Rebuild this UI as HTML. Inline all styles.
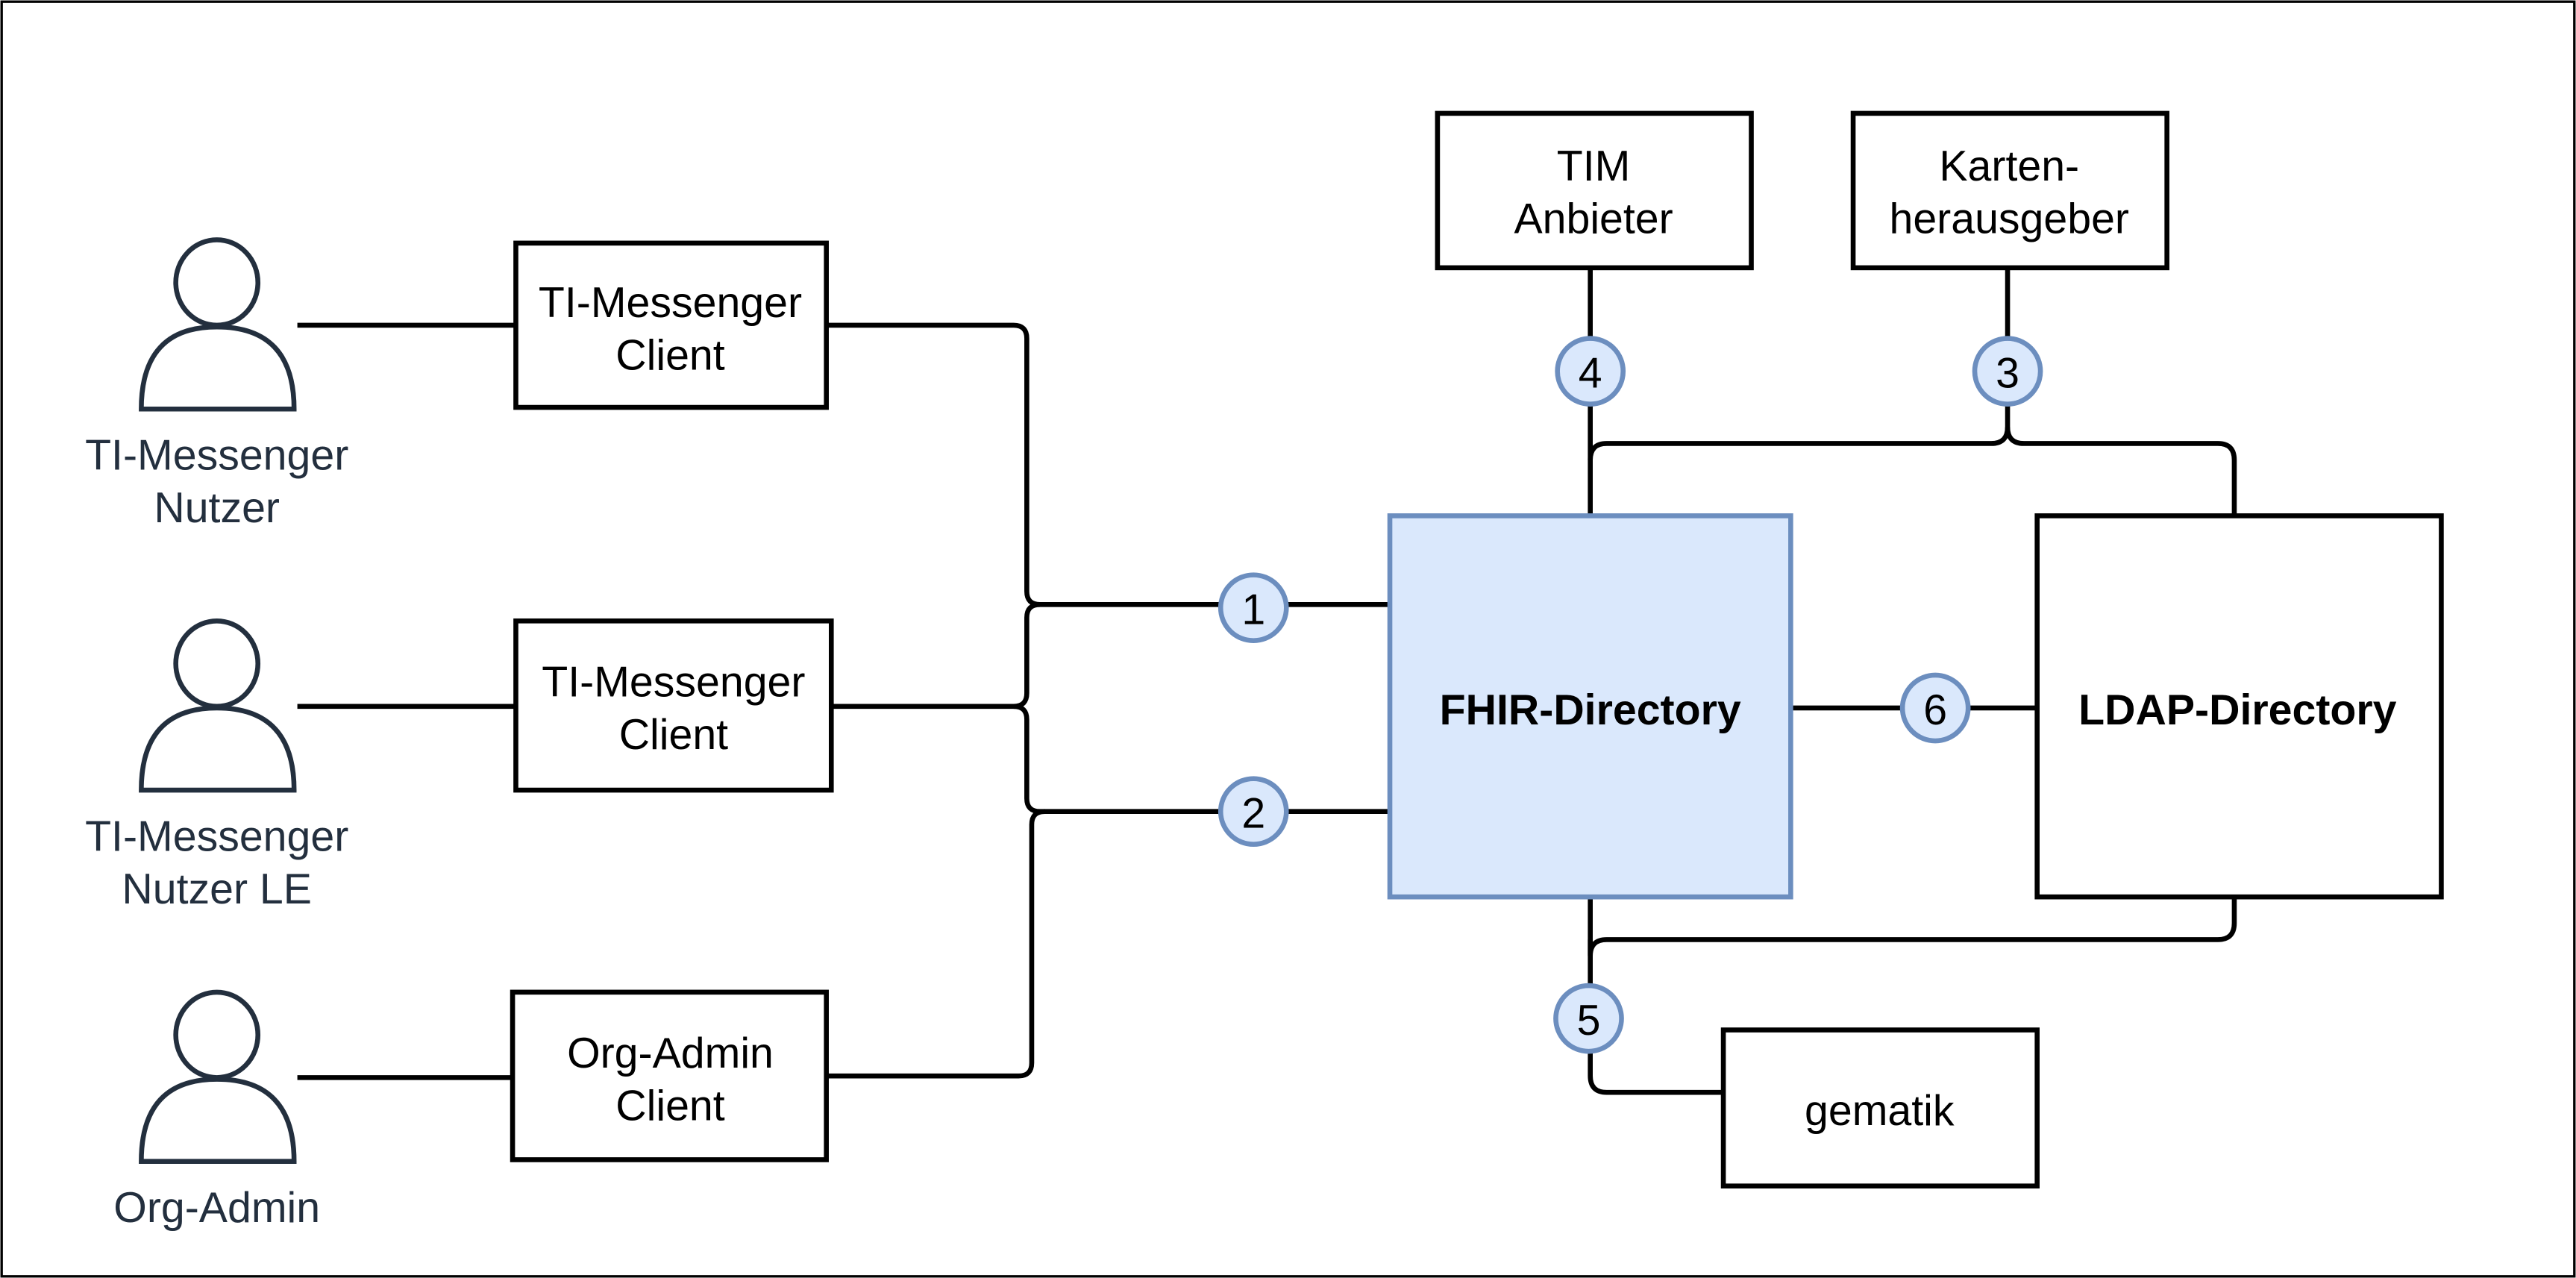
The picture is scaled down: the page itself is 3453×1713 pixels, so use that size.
<!DOCTYPE html>
<html><head><style>html,body{margin:0;padding:0;background:#fff}svg{display:block}</style></head>
<body>
<svg width="3453" height="1713" viewBox="0 0 1568 778" preserveAspectRatio="none" xmlns="http://www.w3.org/2000/svg" font-family="Liberation Sans, Arial, sans-serif">
<rect x="1" y="1" width="1566" height="776" fill="#fff" stroke="#000" stroke-width="1.5"/>
<g fill="none" stroke="#000" stroke-width="3">
<line x1="181" y1="198" x2="313" y2="198"/>
<line x1="181" y1="430" x2="313" y2="430"/>
<line x1="181" y1="656" x2="313" y2="656"/>
<path d="M503 198 H617 Q625 198 625 206 V360 Q625 368 633 368 H846"/>
<path d="M506 430 H617 Q625 430 625 422 V376 Q625 368 633 368"/>
<path d="M617 430 Q625 430 625 438 V486 Q625 494 633 494 H846"/>
<path d="M503 655 H620 Q628 655 628 647 V502 Q628 494 636 494"/>
<line x1="1090" y1="431" x2="1240" y2="431"/>
<line x1="968" y1="163" x2="968" y2="314"/>
<path d="M1222 163 V260 Q1222 270 1212 270 H978 Q968 270 968 280"/>
<path d="M1222 260 Q1222 270 1232 270 H1350 Q1360 270 1360 280 V314"/>
<path d="M968 546 V582 Q968 572 978 572 H1350 Q1360 572 1360 562 V546"/>
<path d="M968 572 V655 Q968 665 978 665 H1049"/>
</g>
<g fill="none" stroke="#232F3E" stroke-width="3">
<ellipse cx="132" cy="172" rx="25" ry="26"/><path d="M86 249 Q86 199 132 199 Q179 199 179 249 Z"/>
<ellipse cx="132" cy="404" rx="25" ry="26"/><path d="M86 481 Q86 431 132 431 Q179 431 179 481 Z"/>
<ellipse cx="132" cy="630" rx="25" ry="26"/><path d="M86 707 Q86 657 132 657 Q179 657 179 707 Z"/>
</g>
<g fill="#fff" stroke="#000" stroke-width="3">
<rect x="314" y="148" width="189" height="100"/>
<rect x="314" y="378" width="192" height="103"/>
<rect x="312" y="604" width="191" height="102"/>
<rect x="875" y="69" width="191" height="94"/>
<rect x="1128" y="69" width="191" height="94"/>
<rect x="1240" y="314" width="246" height="232"/>
<rect x="1049" y="627" width="191" height="95"/>
</g>
<rect x="846" y="314" width="244" height="232" fill="#dae8fc" stroke="#6c8ebf" stroke-width="3"/>
<g fill="#dae8fc" stroke="#6c8ebf" stroke-width="3">
<circle cx="763" cy="370" r="20"/><circle cx="763" cy="494" r="20"/>
<circle cx="1222" cy="226" r="20"/><circle cx="968" cy="226" r="20"/>
<circle cx="967" cy="620" r="20"/><circle cx="1178" cy="431" r="20"/>
</g>
<g font-size="26" text-anchor="middle" fill="#000">
<text x="763" y="380">1</text><text x="763" y="504">2</text>
<text x="1222" y="236">3</text><text x="968" y="236">4</text>
<text x="967" y="630">5</text><text x="1178" y="441">6</text>
<text x="408" y="193">TI-Messenger</text><text x="408" y="225">Client</text>
<text x="410" y="424">TI-Messenger</text><text x="410" y="456">Client</text>
<text x="408" y="650">Org-Admin</text><text x="408" y="682">Client</text>
<text x="970" y="110">TIM</text><text x="970" y="142">Anbieter</text>
<text x="1223" y="110">Karten-</text><text x="1223" y="142">herausgeber</text>
<text x="1144" y="685">gematik</text>
<text x="968" y="441" font-weight="bold">FHIR-Directory</text>
<text x="1362" y="441" font-weight="bold">LDAP-Directory</text>
</g>
<g font-size="26" text-anchor="middle" fill="#232F3E">
<text x="132" y="286">TI-Messenger</text><text x="132" y="318">Nutzer</text>
<text x="132" y="518">TI-Messenger</text><text x="132" y="550">Nutzer LE</text>
<text x="132" y="744">Org-Admin</text>
</g>
</svg>
</body></html>
